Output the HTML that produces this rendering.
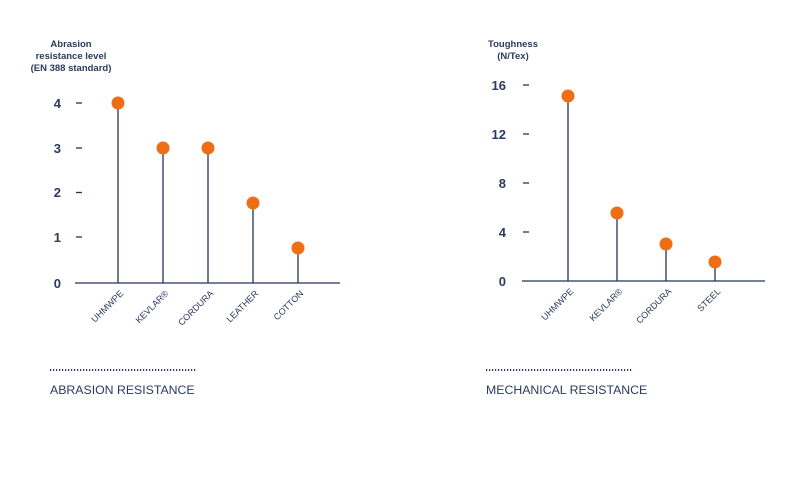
<!DOCTYPE html>
<html><head><style>
body{margin:0;background:#fff;width:800px;height:495px;overflow:hidden}
svg text{font-family:"Liberation Sans",sans-serif;fill:#2b3a5e}
</style></head><body>
<svg width="800" height="495" viewBox="0 0 800 495">
<g font-size="9.5" font-weight="bold" text-anchor="middle">
<text x="71" y="47">Abrasion</text>
<text x="71" y="59">resistance level</text>
<text x="71" y="71">(EN 388 standard)</text>
<text x="513" y="47">Toughness</text>
<text x="513" y="59">(N/Tex)</text>
</g>
<g stroke="#25335a" stroke-width="1.3">
<line x1="75" y1="283" x2="340" y2="283"/>
<line x1="76" y1="103" x2="82" y2="103"/><line x1="76" y1="148" x2="82" y2="148"/>
<line x1="76" y1="192.5" x2="82" y2="192.5"/><line x1="76" y1="237" x2="82" y2="237"/>
<line x1="118" y1="103" x2="118" y2="283"/><line x1="163" y1="148" x2="163" y2="283"/>
<line x1="208" y1="148" x2="208" y2="283"/><line x1="253" y1="203" x2="253" y2="283"/>
<line x1="298" y1="248" x2="298" y2="283"/>
<line x1="522" y1="281" x2="765" y2="281"/>
<line x1="523" y1="85" x2="529" y2="85"/><line x1="523" y1="134" x2="529" y2="134"/>
<line x1="523" y1="183" x2="529" y2="183"/><line x1="523" y1="232" x2="529" y2="232"/>
<line x1="568" y1="96" x2="568" y2="281"/><line x1="617" y1="213" x2="617" y2="281"/>
<line x1="666" y1="244" x2="666" y2="281"/><line x1="715" y1="262" x2="715" y2="281"/>
</g>
<g fill="#ee6e16">
<circle cx="118" cy="103" r="6.5"/><circle cx="163" cy="148" r="6.5"/><circle cx="208" cy="148" r="6.5"/>
<circle cx="253" cy="203" r="6.5"/><circle cx="298" cy="248" r="6.5"/>
<circle cx="568" cy="96" r="6.5"/><circle cx="617" cy="213" r="6.5"/><circle cx="666" cy="244" r="6.5"/><circle cx="715" cy="262" r="6.5"/>
</g>
<g font-size="13" font-weight="bold" text-anchor="end">
<text x="61" y="108">4</text><text x="61" y="153">3</text><text x="61" y="197">2</text><text x="61" y="242">1</text><text x="61" y="288">0</text>
<text x="506" y="90">16</text><text x="506" y="139">12</text><text x="506" y="188">8</text><text x="506" y="237">4</text><text x="506" y="286">0</text>
</g>
<g font-size="9" text-anchor="end">
<text transform="translate(124,294) rotate(-45)">UHMWPE</text>
<text transform="translate(169,294) rotate(-45)">KEVLAR®</text>
<text transform="translate(214,294) rotate(-45)">CORDURA</text>
<text transform="translate(259,294) rotate(-45)">LEATHER</text>
<text transform="translate(304,294) rotate(-45)">COTTON</text>
<text transform="translate(574,292) rotate(-45)">UHMWPE</text>
<text transform="translate(623,292) rotate(-45)">KEVLAR®</text>
<text transform="translate(672,292) rotate(-45)">CORDURA</text>
<text transform="translate(721,292) rotate(-45)">STEEL</text>
</g>
<g stroke="#2b3a5e" stroke-width="2" stroke-dasharray="1.2 1.8">
<line x1="50" y1="370" x2="197" y2="370"/>
<line x1="486" y1="370" x2="632" y2="370"/>
</g>
<g font-size="12.3">
<text x="50" y="394">ABRASION RESISTANCE</text>
<text x="486" y="394">MECHANICAL RESISTANCE</text>
</g>
</svg>
</body></html>
